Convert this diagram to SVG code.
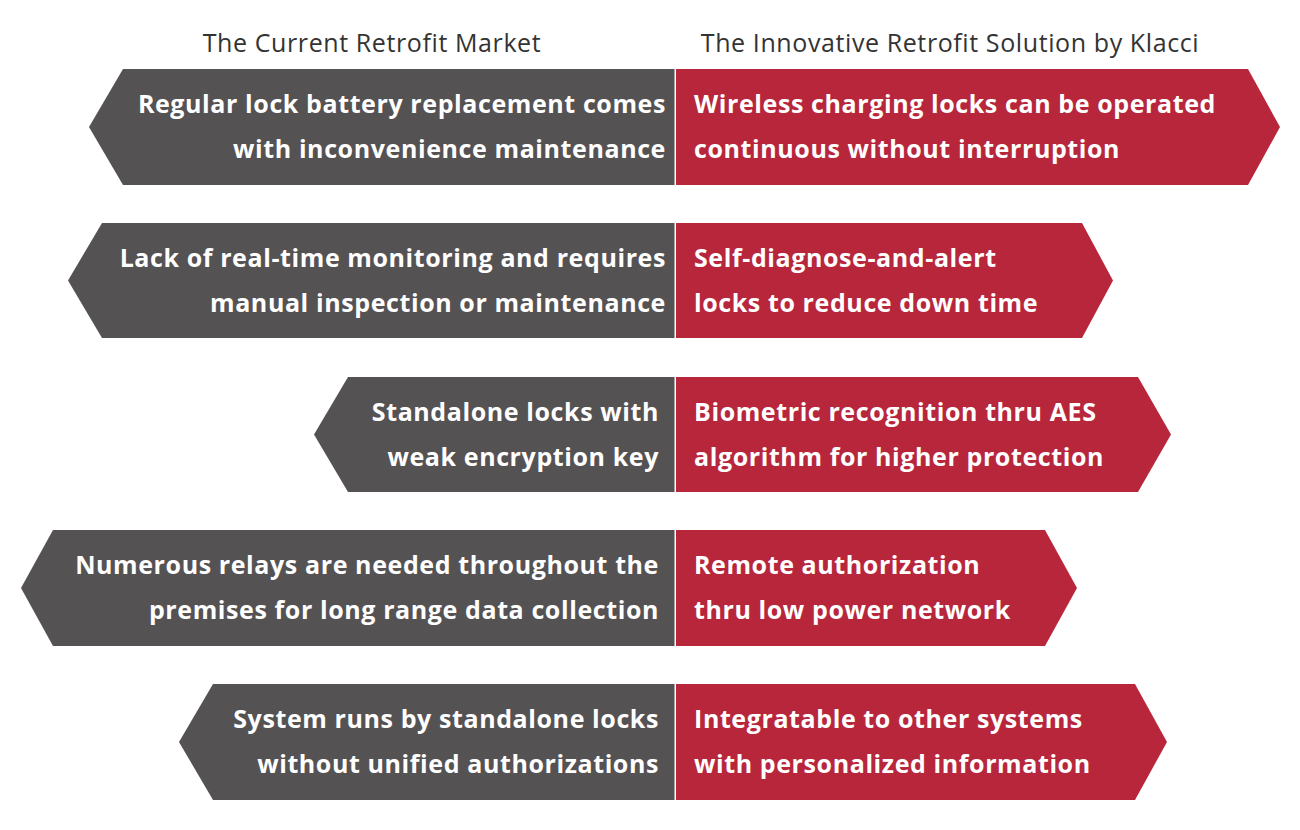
<svg xmlns="http://www.w3.org/2000/svg" width="1300" height="830" viewBox="0 0 1300 830">
<style>
.g{fill:#555254}
.r{fill:#B8263C}
.h{font-family:"Open Sans",Lato,sans-serif;font-size:25px;letter-spacing:0.6px;fill:#333333}
.t{font-family:"Open Sans",Lato,sans-serif;font-weight:bold;font-size:25px;letter-spacing:0.6px;fill:#ffffff}
.e{text-anchor:end}
</style>
<rect width="1300" height="830" fill="#ffffff"/>
<g id="headings">
<text class="h" x="372" y="52" text-anchor="middle">The Current Retrofit Market</text>
<text class="h" x="950" y="52" text-anchor="middle">The Innovative Retrofit Solution by Klacci</text>
</g>
<g id="row1">
<polygon class="g" points="123,69 674.5,69 674.5,185 123,185 89,127"/>
<polygon class="r" points="676,69 1248,69 1280,127 1248,185 676,185"/>
<text class="t e" x="666" y="113">Regular lock battery replacement comes</text>
<text class="t e" x="666" y="158">with inconvenience maintenance</text>
<text class="t" x="694" y="113">Wireless charging locks can be operated</text>
<text class="t" x="694" y="158">continuous without interruption</text>
</g>
<g id="row2">
<polygon class="g" points="102,223 674.5,223 674.5,338 102,338 68,280.5"/>
<polygon class="r" points="676,223 1082,223 1113,280.5 1082,338 676,338"/>
<text class="t e" x="666" y="267">Lack of real-time monitoring and requires</text>
<text class="t e" x="666" y="312">manual inspection or maintenance</text>
<text class="t" x="694" y="267">Self-diagnose-and-alert</text>
<text class="t" x="694" y="312">locks to reduce down time</text>
</g>
<g id="row3">
<polygon class="g" points="348,377 674.5,377 674.5,492 348,492 314,434.5"/>
<polygon class="r" points="676,377 1138,377 1171,434.5 1138,492 676,492"/>
<text class="t e" x="659" y="421">Standalone locks with</text>
<text class="t e" x="659" y="466">weak encryption key</text>
<text class="t" x="694" y="421">Biometric recognition thru AES</text>
<text class="t" x="694" y="466">algorithm for higher protection</text>
</g>
<g id="row4">
<polygon class="g" points="53,530 674.5,530 674.5,646 53,646 21,588"/>
<polygon class="r" points="676,530 1045,530 1077,588 1045,646 676,646"/>
<text class="t e" x="659" y="574">Numerous relays are needed throughout the</text>
<text class="t e" x="659" y="619">premises for long range data collection</text>
<text class="t" x="694" y="574">Remote authorization</text>
<text class="t" x="694" y="619">thru low power network</text>
</g>
<g id="row5">
<polygon class="g" points="213,684 674.5,684 674.5,800 213,800 179,742"/>
<polygon class="r" points="676,684 1135,684 1167,742 1135,800 676,800"/>
<text class="t e" x="659" y="728">System runs by standalone locks</text>
<text class="t e" x="659" y="773">without unified authorizations</text>
<text class="t" x="694" y="728">Integratable to other systems</text>
<text class="t" x="694" y="773">with personalized information</text>
</g>
<g id="connectors"></g>
</svg>
